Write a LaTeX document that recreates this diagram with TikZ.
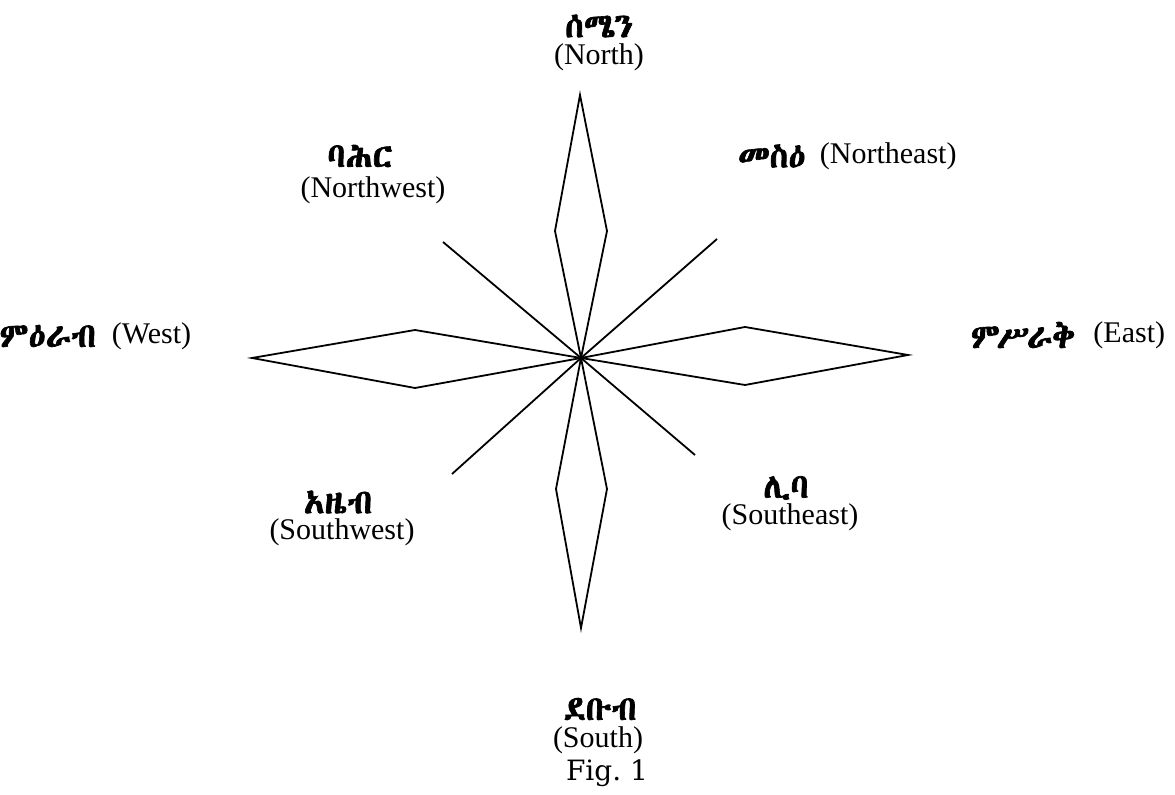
\documentclass[tikz,border=0pt]{standalone}
\usepackage{fontspec}
\setmainfont{Liberation Serif}
\IfFontExistsTF{Abyssinica SIL}
  {\newfontfamily\ethfont{Abyssinica SIL}[FakeBold=2]}
  {\newfontfamily\ethfont{DejaVu Sans}[FakeBold=1]}
\newfontfamily\figfont{DejaVu Serif}
\usetikzlibrary{positioning}

\begin{document}
\begin{tikzpicture}[x=0.5pt,y=-0.5pt,line width=0.9pt,line join=miter,
  lab/.style={font=\fontsize{15}{17}\selectfont,inner sep=0pt},
  eth/.style={font=\fontsize{17}{19}\selectfont\ethfont,inner sep=0pt}]
\useasboundingbox (0,0) rectangle (1175,795);
% star
\coordinate (c) at (581,358);
\coordinate (n) at (580,95);  \coordinate (nl) at (555,231); \coordinate (nr) at (607,231);
\coordinate (s) at (581,628); \coordinate (sl) at (556,489); \coordinate (sr) at (607,489);
\coordinate (w) at (252,358); \coordinate (wt) at (415,330); \coordinate (wb) at (415,388);
\coordinate (e) at (908,355); \coordinate (et) at (745,327); \coordinate (eb) at (745,385);
\draw (c) -- (nl) -- (n) -- (nr) -- cycle;
\draw (c) -- (sl) -- (s) -- (sr) -- cycle;
\draw (c) -- (wt) -- (w) -- (wb) -- cycle;
\draw (c) -- (et) -- (e) -- (eb) -- cycle;
\coordinate (ne) at (717,239); \coordinate (nw) at (443,242);
\coordinate (se) at (695,455); \coordinate (sw) at (452,474);
\draw (nw) -- (c) -- (ne) (sw) -- (c) -- (se);
% labels
\node[eth] (nE) at (599,26) {ሰሜን};
\node[lab] (nL) at (599,57) {(North)};
\node[eth,anchor=west] (neE) at (737,156) {መስዕ};
\node[lab,anchor=west] (neL) at (819,156) {(Northeast)};
\node[eth] (nwE) at (360,156) {ባሕር};
\node[lab] (nwL) at (373,190) {(Northwest)};
\node[eth,anchor=east] (wE) at (97,336) {ምዕራብ};
\node[lab,anchor=east] (wL) at (192,336) {(West)};
\node[eth,anchor=west] (eE) at (970,335) {ምሥራቅ};
\node[lab,anchor=east] (eL) at (1166,335) {(East)};
\node[eth] (seE) at (786,488) {ሊባ};
\node[lab] (seL) at (790,517) {(Southeast)};
\node[eth] (swE) at (338,502) {አዜብ};
\node[lab] (swL) at (342,532) {(Southwest)};
\node[eth] (sE) at (600,709) {ደቡብ};
\node[lab] (sL) at (598,740) {(South)};
\node[lab,font=\fontsize{14}{16}\selectfont\figfont] (fig) at (607,773) {Fig.~1};
\end{tikzpicture}
\end{document}
